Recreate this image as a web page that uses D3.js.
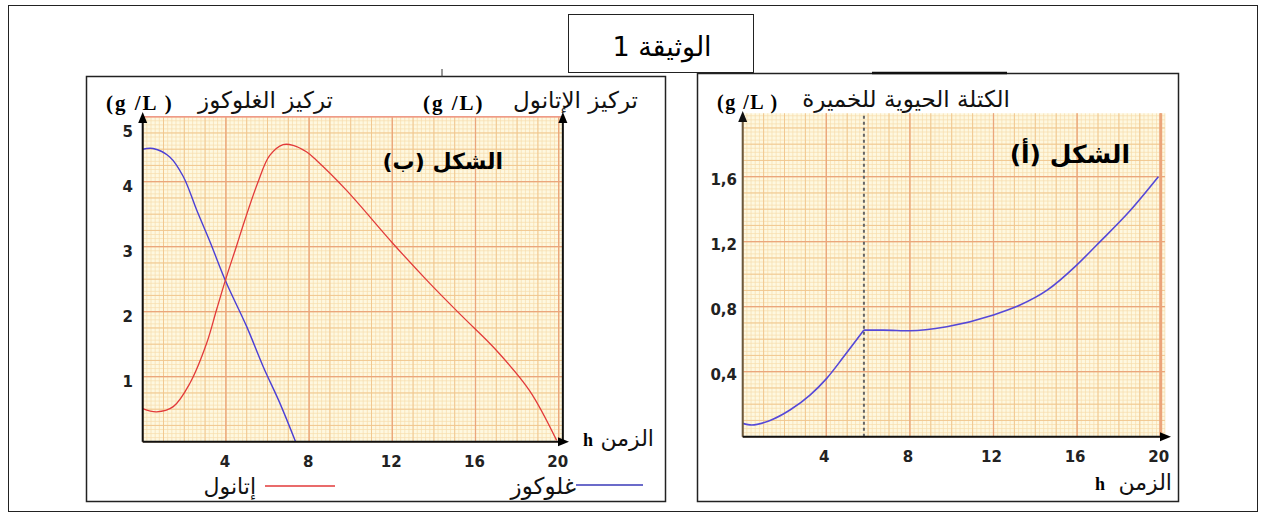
<!DOCTYPE html>
<html>
<head>
<meta charset="utf-8">
<script src="https://cdn.jsdelivr.net/npm/d3@7"></script>
<style>
  body { margin: 0; background: #fff; }
  svg { display: block; }
  .ar { font-family: "DejaVu Sans", sans-serif; }
  .unit { font-family: "Liberation Serif", serif; font-weight: bold; }
  .tick { font-family: "DejaVu Sans", sans-serif; font-weight: bold; font-size: 15px; fill: #222; }
</style>
</head>
<body>
<div id="container"></div>
<script>
// ---- data ----
const xTicks = [4, 8, 12, 16, 20];

// figure b : ethanol and glucose (g/L) against time (h)
const timeEthanol = [0, 0.67, 1.47, 2.27, 3.07, 3.55, 4.03, 4.5, 4.9, 5.55, 6.1, 6.75, 7.23, 7.87, 8.35, 9.79, 12.03, 13.79, 15.39, 16.99, 18.59, 19.9];
const ethanol     = [0.51, 0.46, 0.54, 0.90, 1.51, 2.03, 2.54, 3.0, 3.4, 4.0, 4.4, 4.57, 4.56, 4.46, 4.33, 3.87, 3.05, 2.44, 1.92, 1.41, 0.79, 0.02];
const timeGlucose = [0, 0.5, 1.3, 1.95, 2.6, 3.23, 4.0, 5.0, 5.8, 6.6, 7.35];
const glucose     = [4.5, 4.51, 4.38, 4.08, 3.56, 3.08, 2.46, 1.77, 1.15, 0.59, 0];
const yTicksB = [1, 2, 3, 4, 5];

// figure a : yeast biomass (g/L) against time (h)
const timeBiomass = [0, 0.43, 1.31, 2.26, 3.22, 4.02, 4.82, 5.8, 6.73, 8.0, 9.76, 12.0, 13.27, 14.55, 15.98, 16.94, 18.53, 19.89];
const biomass     = [0.082, 0.072, 0.10, 0.164, 0.256, 0.359, 0.49, 0.656, 0.656, 0.652, 0.677, 0.749, 0.81, 0.90, 1.056, 1.18, 1.39, 1.60];
const yTicksA = [0.4, 0.8, 1.2, 1.6];
const yTickLabelsA = ["0,4", "0,8", "1,2", "1,6"];
const markerTime = 5.8;

const width = 1266, height = 518;

const svg = d3.select("#container")
  .append("svg")
  .attr("width", width)
  .attr("height", height);

svg.append("rect").attr("width", width).attr("height", height).attr("fill", "#fff");

// page frame and boxes
svg.append("rect").attr("x", 8.5).attr("y", 5.5).attr("width", 1249).attr("height", 506)
  .attr("fill", "none").attr("stroke", "#222").attr("stroke-width", 1);
svg.append("rect").attr("x", 86.5).attr("y", 76.5).attr("width", 579).attr("height", 425)
  .attr("fill", "none").attr("stroke", "#222").attr("stroke-width", 1.5);
svg.append("rect").attr("x", 697.5).attr("y", 73.5).attr("width", 481).attr("height", 428)
  .attr("fill", "none").attr("stroke", "#222").attr("stroke-width", 1.5);
svg.append("line").attr("x1", 872).attr("x2", 1007).attr("y1", 73).attr("y2", 73)
  .attr("stroke", "#111").attr("stroke-width", 2.5);
svg.append("line").attr("x1", 442).attr("x2", 442).attr("y1", 69).attr("y2", 77)
  .attr("stroke", "#333").attr("stroke-width", 1);

// title box
svg.append("rect").attr("x", 568.5).attr("y", 14.5).attr("width", 185).attr("height", 58)
  .attr("fill", "#fff").attr("stroke", "#222").attr("stroke-width", 1);
svg.append("text").attr("class", "ar")
  .attr("x", 662).attr("y", 56).attr("text-anchor", "middle")
  .attr("font-size", 27).attr("fill", "#000")
  .text("الوثيقة 1");

function range(a, b, s) {
  const out = [];
  for (let v = a; v <= b + 1e-9; v += s) out.push(+v.toFixed(4));
  return out;
}

function drawGrid(g, x, y, xMax, yMax, steps) {
  const [x0, x1] = [x(0), x(xMax)];
  const [y0, y1] = [y(0), y(yMax)];
  g.append("rect").attr("x", x0).attr("y", y1).attr("width", x1 - x0).attr("height", y0 - y1)
    .attr("fill", "#fef8e0");
  const levels = [
    { xs: steps.xMinor, ys: steps.yMinor, color: "#f7dcac", w: 0.7 },
    { xs: steps.xMid, ys: steps.yMid, color: "#f1c58c", w: 0.9 },
    { xs: steps.xMajor, ys: steps.yMajor, color: "#eba67c", w: 1.3 }
  ];
  levels.forEach(l => {
    g.append("g").selectAll("line").data(range(0, xMax, l.xs)).enter().append("line")
      .attr("x1", d => x(d)).attr("x2", d => x(d)).attr("y1", y0).attr("y2", y1)
      .attr("stroke", l.color).attr("stroke-width", l.w);
    g.append("g").selectAll("line").data(range(0, yMax, l.ys)).enter().append("line")
      .attr("y1", d => y(d)).attr("y2", d => y(d)).attr("x1", x0).attr("x2", x1)
      .attr("stroke", l.color).attr("stroke-width", l.w);
  });
}

function arrow(g, x, y, dir, color) {
  const p = dir === "up"
    ? `M${x},${y} L${x - 4.5},${y + 11} L${x + 4.5},${y + 11} Z`
    : `M${x},${y} L${x - 11},${y - 4.5} L${x - 11},${y + 4.5} Z`;
  g.append("path").attr("d", p).attr("fill", color || "#000");
}

// ================= figure b (left) =================
const xB = d3.scaleLinear().domain([0, 20]).range([142.7, 558.7]);
const yB = d3.scaleLinear().domain([0, 5]).range([441.7, 116.7]);
const gB = svg.append("g");

drawGrid(gB, xB, yB, 20.2, 5, {
  xMinor: 0.2, yMinor: 1 / 16, xMid: 1, yMid: 0.25, xMajor: 4, yMajor: 1
});
gB.append("line").attr("x1", xB(0)).attr("x2", xB(20.2)).attr("y1", yB(5)).attr("y2", yB(5))
  .attr("stroke", "#ef9a88").attr("stroke-width", 1.5);

const lineB = (xs, ys) => d3.line()
  .x((d, i) => xB(xs[i]))
  .y(d => yB(d))
  .curve(d3.curveCatmullRom.alpha(0.5))(ys);

gB.append("path").attr("d", lineB(timeGlucose, glucose))
  .attr("fill", "none").attr("stroke", "#4b3fd6").attr("stroke-width", 1.4);
gB.append("path").attr("d", lineB(timeEthanol, ethanol))
  .attr("fill", "none").attr("stroke", "#e23a3a").attr("stroke-width", 1.3);

// axes
gB.append("line").attr("x1", xB(0)).attr("x2", xB(0)).attr("y1", yB(0)).attr("y2", 120)
  .attr("stroke", "#111").attr("stroke-width", 2);
gB.append("line").attr("x1", xB(20.2)).attr("x2", xB(20.2)).attr("y1", yB(0)).attr("y2", 120)
  .attr("stroke", "#111").attr("stroke-width", 2);
gB.append("line").attr("x1", xB(0)).attr("x2", 560).attr("y1", yB(0)).attr("y2", yB(0))
  .attr("stroke", "#111").attr("stroke-width", 2);
arrow(gB, xB(0), 112, "up");
arrow(gB, xB(20.2), 112, "up");
arrow(gB, 569, yB(0), "right");

gB.selectAll(".ytick").data(yTicksB).enter().append("text")
  .attr("class", "tick")
  .attr("x", 133).attr("text-anchor", "end")
  .attr("y", d => yB(d) + (d === 5 ? 20 : 10))
  .text(d => d);
gB.selectAll(".xtick").data(xTicks).enter().append("text")
  .attr("class", "tick")
  .attr("x", d => xB(d) - 1).attr("text-anchor", "middle")
  .attr("y", 467)
  .text(d => d);

// axis titles
gB.append("text").attr("class", "unit").attr("x", 106).attr("y", 110).attr("font-size", 21)
  .attr("letter-spacing", 2).text("(g /L )");
gB.append("text").attr("class", "ar").attr("x", 333).attr("y", 108).attr("text-anchor", "end")
  .attr("font-size", 23).attr("fill", "#111").text("تركيز الغلوكوز");
gB.append("text").attr("class", "unit").attr("x", 423).attr("y", 110).attr("font-size", 21)
  .attr("letter-spacing", 2).text("(g /L)");
gB.append("text").attr("class", "ar").attr("x", 638).attr("y", 108).attr("text-anchor", "end")
  .attr("font-size", 23).attr("fill", "#111").text("تركيز الإتانول");
gB.append("text").attr("class", "ar").attr("x", 503).attr("y", 169).attr("text-anchor", "end")
  .attr("font-size", 22).attr("font-weight", "bold").text("الشكل (ب)");
gB.append("text").attr("class", "unit").attr("x", 583).attr("y", 446).attr("font-size", 18).text("h");
gB.append("text").attr("class", "ar").attr("x", 654).attr("y", 446).attr("text-anchor", "end")
  .attr("font-size", 22).attr("fill", "#111").text("الزمن");

// legend
gB.append("text").attr("class", "ar").attr("x", 256).attr("y", 494).attr("text-anchor", "end")
  .attr("font-size", 22).attr("fill", "#111").text("إتانول");
gB.append("line").attr("x1", 265).attr("x2", 335).attr("y1", 486).attr("y2", 486)
  .attr("stroke", "#e23a3a").attr("stroke-width", 1.3);
gB.append("text").attr("class", "ar").attr("x", 576).attr("y", 494).attr("text-anchor", "end")
  .attr("font-size", 23).attr("fill", "#111").text("غلوكوز");
gB.append("line").attr("x1", 576).attr("x2", 643).attr("y1", 485).attr("y2", 485)
  .attr("stroke", "#3a3ab8").attr("stroke-width", 1.3);

// ================= figure a (right) =================
const xA = d3.scaleLinear().domain([0, 20]).range([742.7, 1160.7]);
const yA = d3.scaleLinear().domain([0, 2]).range([436.7, 111.7]);
const gA = svg.append("g");

drawGrid(gA, xA, yA, 20.2, 1.99, {
  xMinor: 0.2, yMinor: 0.025, xMid: 1, yMid: 0.1, xMajor: 4, yMajor: 0.4
});
gA.append("line").attr("x1", xA(20)).attr("x2", xA(20)).attr("y1", yA(0)).attr("y2", yA(1.99))
  .attr("stroke", "#eba47a").attr("stroke-width", 3);

gA.append("line").attr("x1", xA(markerTime)).attr("x2", xA(markerTime))
  .attr("y1", yA(0)).attr("y2", yA(1.99))
  .attr("stroke", "#666").attr("stroke-width", 2).attr("stroke-dasharray", "3,3");

// growth curve in two parts so the corner at the marker stays sharp
const kink = timeBiomass.indexOf(markerTime);
const lineA = d3.line().x(d => xA(d[0])).y(d => yA(d[1])).curve(d3.curveMonotoneX);
const ptsA = timeBiomass.map((t, i) => [t, biomass[i]]);
[ptsA.slice(0, kink + 1), ptsA.slice(kink)].forEach(seg => {
  gA.append("path").attr("d", lineA(seg))
    .attr("fill", "none").attr("stroke", "#5548d8").attr("stroke-width", 1.6);
});

gA.append("line").attr("x1", xA(0)).attr("x2", xA(0)).attr("y1", yA(0)).attr("y2", 118)
  .attr("stroke", "#6b5a3e").attr("stroke-width", 2);
gA.append("line").attr("x1", xA(0)).attr("x2", 1162).attr("y1", yA(0)).attr("y2", yA(0))
  .attr("stroke", "#111").attr("stroke-width", 2);
arrow(gA, xA(0), 111, "up", "#111");
arrow(gA, 1171, yA(0), "right");

gA.selectAll(".ytick").data(yTicksA).enter().append("text")
  .attr("class", "tick")
  .attr("x", 737).attr("text-anchor", "end")
  .attr("y", (d, i) => yA(d) + 8)
  .text((d, i) => yTickLabelsA[i]);
gA.selectAll(".xtick").data(xTicks).enter().append("text")
  .attr("class", "tick")
  .attr("x", d => xA(d) - 2).attr("text-anchor", "middle")
  .attr("y", 462)
  .text(d => d);

gA.append("text").attr("class", "unit").attr("x", 717).attr("y", 109).attr("font-size", 20)
  .attr("letter-spacing", 1.5).text("(g /L )");
gA.append("text").attr("class", "ar").attr("x", 1010).attr("y", 107).attr("text-anchor", "end")
  .attr("font-size", 23).attr("fill", "#111").text("الكتلة الحيوية للخميرة");
gA.append("text").attr("class", "ar").attr("x", 1130).attr("y", 163).attr("text-anchor", "end")
  .attr("font-size", 25).attr("font-weight", "bold").text("الشكل (أ)");
gA.append("text").attr("class", "unit").attr("x", 1095).attr("y", 490).attr("font-size", 18).text("h");
gA.append("text").attr("class", "ar").attr("x", 1172).attr("y", 490).attr("text-anchor", "end")
  .attr("font-size", 22).attr("fill", "#111").text("الزمن");
</script>
</body>
</html>
